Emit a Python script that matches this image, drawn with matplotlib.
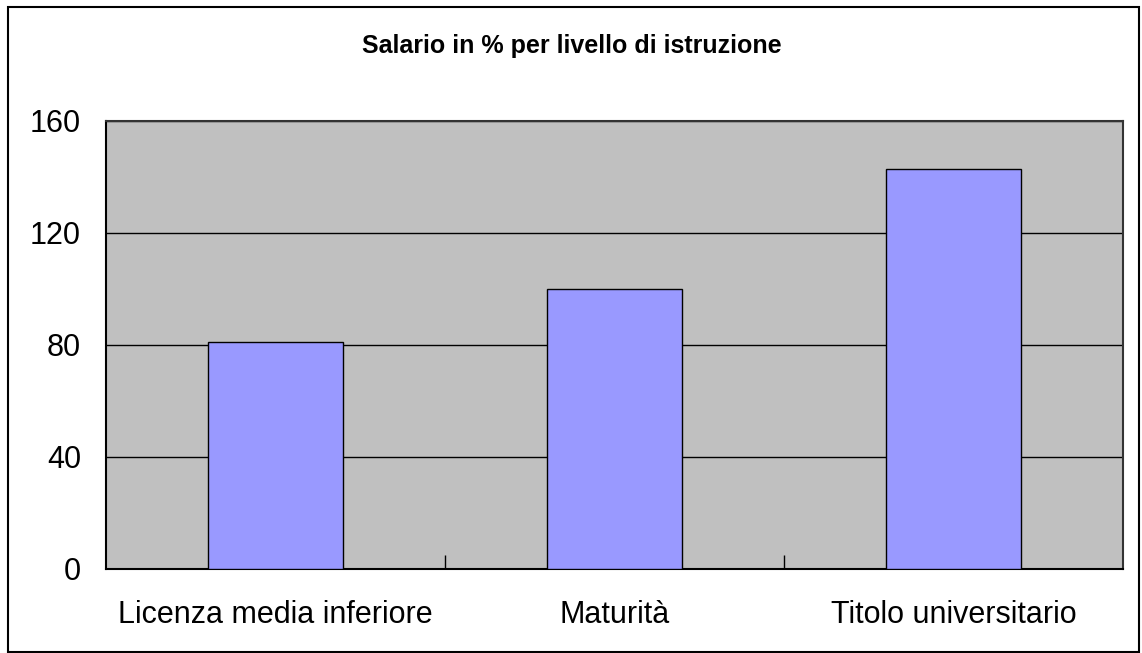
import matplotlib
matplotlib.use("Agg")
import matplotlib.pyplot as plt
from matplotlib.patches import Rectangle

plt.rcParams['font.family'] = ['Liberation Sans', 'DejaVu Sans']

categories = ['Licenza media inferiore', 'Maturità', 'Titolo universitario']
values = [81, 100, 143]
y_ticks = [0, 40, 80, 120, 160]
title = 'Salario in % per livello di istruzione'

fig = plt.figure(figsize=(11.42, 6.53), dpi=100)
ax = fig.add_axes([106 / 1142, 1 - 569 / 653, (1123 - 106) / 1142, (569 - 121) / 653])

# cornice esterna del grafico
fig.patches.append(Rectangle((8 / 1142, 1 / 653), 1131 / 1142, 645 / 653,
                             transform=fig.transFigure, fill=False,
                             edgecolor='black', linewidth=1.5))

ax.set_facecolor('#C0C0C0')
x = list(range(len(categories)))
ax.bar(x, values, width=0.4, color='#9999FF', edgecolor='black', linewidth=1, zorder=3)

ax.set_xlim(-0.5, len(categories) - 0.5)
ax.set_ylim(0, 160)
ax.set_yticks(y_ticks)
ax.set_yticklabels([str(v) for v in y_ticks], fontsize=22)
ax.tick_params(axis='y', length=0, pad=18)
ax.yaxis.grid(True, color='black', linewidth=1)
ax.set_axisbelow(True)

# etichette categorie senza tick, tick interni ai confini
ax.set_xticks(x)
ax.set_xticklabels(categories, fontsize=22)
ax.tick_params(axis='x', length=0, pad=22)
ax.set_xticks([i + 0.5 for i in x[:-1]], minor=True)
ax.tick_params(axis='x', which='minor', direction='in', length=10, width=1, color='black')

for side in ['top', 'right']:
    ax.spines[side].set_color('#333333')
    ax.spines[side].set_linewidth(1.5)
for side in ['left', 'bottom']:
    ax.spines[side].set_color('black')
    ax.spines[side].set_linewidth(1.5)

fig.text(572 / 1142, 1 - 46 / 653, title, ha='center', va='center',
         fontsize=18, fontweight='bold')

fig.savefig('out.png', dpi=100)
